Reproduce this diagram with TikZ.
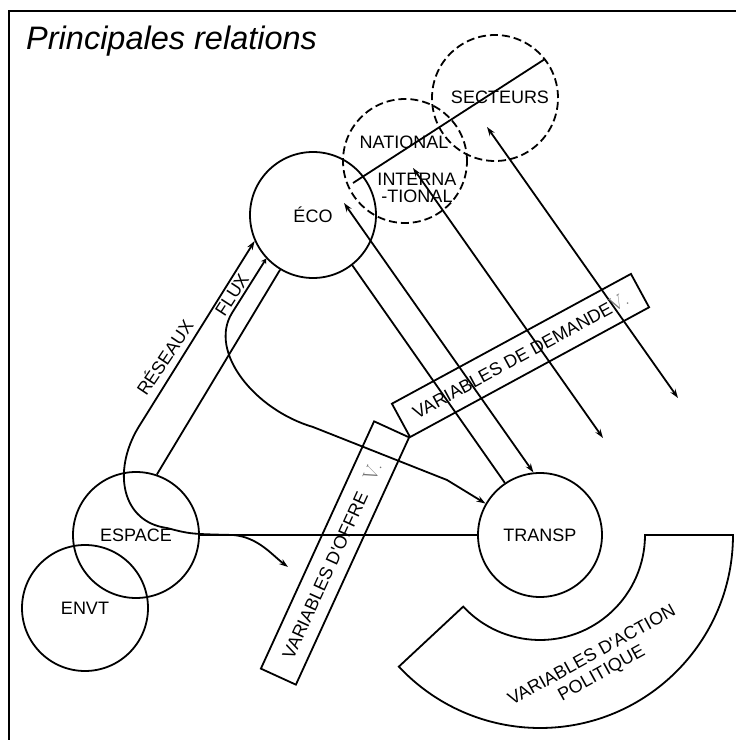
\documentclass[tikz,border=0pt]{standalone}
\usepackage{fontspec}
\newfontfamily\lab{Liberation Sans}
\usetikzlibrary{arrows.meta,calc}
\begin{document}
\begin{tikzpicture}[x=1pt,y=1pt,line width=1.8pt,
  >={Stealth[length=9pt,width=6pt]},
  every node/.style={font=\lab\fontsize{18}{20}\selectfont},
  circ/.style={circle,draw,minimum size=126pt,inner sep=0pt},
  dcirc/.style={circle,draw,dash pattern=on 8pt off 4pt,minimum size=126pt,inner sep=0pt},
  varbox/.style={draw,minimum width=272pt,minimum height=38pt,inner sep=0pt},
  vmark/.style={}]
\useasboundingbox (0,0) rectangle (736,740);

% frame (top and left sides)
\draw (9,0) -- (9,729) -- (736,729);
\node[anchor=base west,font=\lab\itshape\fontsize{32.5}{36}\selectfont] (title) at (22,690) {Principales relations};

% policy sector around TRANSP
\coordinate (tc) at (540,205);
\draw ($(tc)+(0:105)$) -- ($(tc)+(0:193)$) arc[start angle=0,end angle=-137,radius=193]
  -- ($(tc)+(-137:105)$) arc[start angle=-137,end angle=0,radius=105] -- cycle;
\node[rotate=29,align=center] (pol) at (597,75) {VARIABLES D'ACTION\\POLITIQUE};

% main circles
\node[circ] (eco) at (313,525) {ÉCO};
\node[circ] (espace) at (136,205) {ESPACE};
\node[circ] (envt) at (85,132) {ENVT};
\node[circ,minimum size=124pt] (transp) at (540,205) {TRANSP};

% dashed circles
\node[dcirc,minimum size=124pt] (natl) at (405,579) {};
\node[dcirc] (sect) at (495,642) {};
\node (tnat) at (404,598) {NATIONAL};
\node[align=center,font=\lab\fontsize{18}{17}\selectfont] (tint) at (417,552) {INTERNA\\-TIONAL};
\node (tsec) at (500,643) {SECTEURS};

% diagonal through the dashed circles
\coordinate (d1) at (353,557);
\coordinate (d2) at (545,681);
\draw (d1) -- (d2);

% parallel double arrows
\coordinate (a1s) at (344,537);
\coordinate (a2s) at (413,572);
\coordinate (a2e) at (603,302);
\coordinate (a3s) at (487,613);
\coordinate (a3e) at (678,342);
\draw[<->] (a1s) -- (transp.96);
\draw[<->] (a2s) -- (a2e);
\draw[<->] (a3s) -- (a3e);

% plain links
\draw (eco.-52) -- (transp.124);
\draw (espace.71) -- (eco.239);
\draw (espace.east) -- (transp.west);

% RESEAUX curve
\coordinate (rend) at (288,173);
\draw[<->] (eco.204) -- (138,312) .. controls (112,268) and (122,218) .. (167,212)
  .. controls (190,206) .. (233,205) .. controls (258,203) and (272,185) .. (rend);
\node[rotate=56] (lres) at (164,383) {RÉSEAUX};

% FLUX curve
\draw[{Stealth[length=5pt,width=6pt]}-{Stealth[length=9pt,width=6pt]}]
  (eco.223) -- (232,427) .. controls (208,388) and (255,330) .. (313,313)
  -- (447,260) -- (transp.150);
\node[rotate=57] (lflux) at (232,445) {FLUX};

% variable boxes
\node[varbox,rotate=28.5] (dem) at (520.5,384.5)
  {VARIABLES DE DEMANDE{\normalfont\fontsize{20}{22}\selectfont\color{black!55}V.}};
\node[varbox,minimum height=38.5pt,rotate=65.4] (off) at (335,187)
  {VARIABLES D'OFFRE\hspace*{0.8em}{\normalfont\fontsize{20}{22}\selectfont\color{black!55}V.}\hspace*{16pt}};
\end{tikzpicture}
\end{document}
